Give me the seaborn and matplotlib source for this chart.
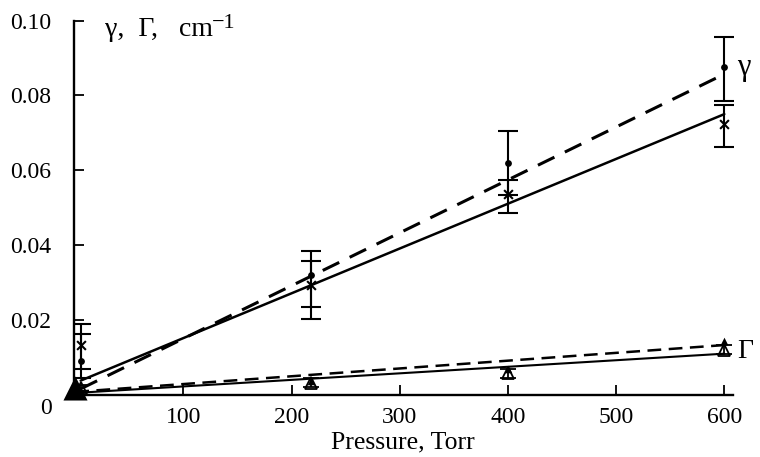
import matplotlib
matplotlib.use("Agg")
import matplotlib.pyplot as plt
import matplotlib.transforms as mtransforms
import seaborn as sns
import numpy as np

sns.set_theme(style="ticks")
plt.rcParams['font.family'] = ['Liberation Serif', 'DejaVu Serif']
plt.rcParams['mathtext.fontset'] = 'stix'

# ---- data ----
pressure = [5, 218, 400, 600]
gamma_dot = [0.0091, 0.0321, 0.0619, 0.0876]
gamma_dot_lo = [0.0046, 0.0202, 0.0535, 0.0785]
gamma_dot_hi = [0.0163, 0.0383, 0.0705, 0.0957]
gamma_x = [0.0134, 0.0294, 0.0536, 0.0723]
gamma_x_lo = [0.0070, 0.0236, 0.0487, 0.0663]
gamma_x_hi = [0.0188, 0.0358, 0.0575, 0.0774]
Gamma_open = [0.0019, 0.0032, 0.0058, 0.0120]
Gamma_open_err = [0.0008, 0.0012, 0.0012, 0.0012]
Gamma_small = [0.0019, 0.0036, 0.0068, 0.0145]
Gamma_fill_x = [0]
Gamma_fill_y = [0.0017]

fit_x = [5, 600]
fit_gamma_dash = [0.0016, 0.0857]
fit_gamma_solid = [0.0038, 0.0750]
fit_x_G = [0, 600]
fit_Gamma_dash = [0.0008, 0.0133]
fit_Gamma_solid = [0.0005, 0.0110]

xticks = [100, 200, 300, 400, 500, 600]
yticks = [0, 0.02, 0.04, 0.06, 0.08, 0.10]
ytick_labels = ["0", "0.02", "0.04", "0.06", "0.08", "0.10"]

fig = plt.figure(figsize=(7.6, 4.57), dpi=100)
ax = fig.add_axes([0.097, 0.136, 0.867, 0.819])

k = "black"
sns.lineplot(x=fit_x, y=fit_gamma_dash, ax=ax, color=k, lw=2.2, linestyle=(0, (6, 3.8)))
sns.lineplot(x=fit_x, y=fit_gamma_solid, ax=ax, color=k, lw=1.8)
sns.lineplot(x=fit_x_G, y=fit_Gamma_dash, ax=ax, color=k, lw=1.8, linestyle=(0, (5.5, 3)))
sns.lineplot(x=fit_x_G, y=fit_Gamma_solid, ax=ax, color=k, lw=1.5)

p = np.array(pressure)
gd = np.array(gamma_dot); gx = np.array(gamma_x)
ax.errorbar(p, gd, yerr=[gd - np.array(gamma_dot_lo), np.array(gamma_dot_hi) - gd],
            fmt='none', ecolor=k, elinewidth=1.5, capsize=7, capthick=1.5)
ax.errorbar(p, gx, yerr=[gx - np.array(gamma_x_lo), np.array(gamma_x_hi) - gx],
            fmt='none', ecolor=k, elinewidth=1.5, capsize=7, capthick=1.5)
ax.errorbar(p, Gamma_open, yerr=Gamma_open_err,
            fmt='none', ecolor=k, elinewidth=1.3, capsize=6, capthick=1.3)

sns.scatterplot(x=pressure, y=gamma_dot, ax=ax, color=k, marker='o', s=24, linewidth=0, zorder=5)
sns.scatterplot(x=pressure, y=gamma_x, ax=ax, color=k, marker='x', s=40, linewidth=1.5, zorder=5)
ax.plot(pressure, Gamma_open, linestyle='none', marker='^', markersize=8,
        markerfacecolor='none', markeredgecolor=k, markeredgewidth=1.3, zorder=5)
sns.scatterplot(x=pressure[1:], y=Gamma_small[1:], ax=ax, color=k, marker='^', s=30,
                linewidth=0, zorder=5)
sns.scatterplot(x=Gamma_fill_x, y=Gamma_fill_y, ax=ax, color=k, marker='^', s=300,
                linewidth=0, zorder=6, clip_on=False)

ax.set_xlim(-1.4, 607.7)
ax.set_ylim(0, 0.10)
ax.set_xticks(xticks)
ax.set_yticks(yticks)
ax.set_yticklabels(ytick_labels)
ax.tick_params(direction='in', length=7, width=1.3, labelsize=17, colors=k)
ax.tick_params(axis='y', pad=16)
ax.tick_params(axis='x', pad=9)
lbl0 = ax.get_yticklabels()[0]
lbl0.set_transform(lbl0.get_transform() + mtransforms.ScaledTranslation(0, -11/100, fig.dpi_scale_trans))
for s in ['top', 'right']:
    ax.spines[s].set_visible(False)
for s in ['left', 'bottom']:
    ax.spines[s].set_linewidth(1.7)
    ax.spines[s].set_color(k)

ax.set_xlabel("Pressure, Torr", fontsize=18.5, color=k, labelpad=2)
ax.set_ylabel("")
fig.text(105/760, 1 - 30/457, "γ,  Γ,   cm", fontsize=20, va='center', ha='left', color=k)
fig.text(212/760, 1 - 24/457, "−1", fontsize=16, va='center', ha='left', color=k)
ax.text(612, 0.0875, "γ", fontsize=22, va='center', ha='left', color=k, clip_on=False)
ax.text(612, 0.0115, "Γ", fontsize=20, va='center', ha='left', color=k, clip_on=False)

fig.savefig("out.png", dpi=100)
